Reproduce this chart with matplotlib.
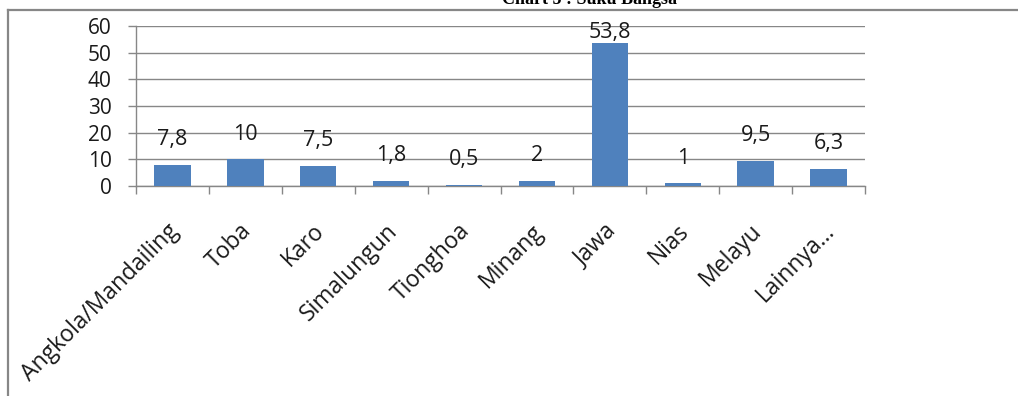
import matplotlib
matplotlib.use("Agg")
import matplotlib.pyplot as plt
from matplotlib.lines import Line2D

categories = ["Angkola/Mandailing", "Toba", "Karo", "Simalungun", "Tionghoa",
              "Minang", "Jawa", "Nias", "Melayu", "Lainnya..."]
values = [7.8, 10, 7.5, 1.8, 0.5, 2, 53.8, 1, 9.5, 6.3]
value_labels = ["7,8", "10", "7,5", "1,8", "0,5", "2", "53,8", "1", "9,5", "6,3"]
y_ticks = [0, 10, 20, 30, 40, 50, 60]

W, H = 1018, 396
fig = plt.figure(figsize=(W / 100, H / 100), dpi=100)
fig.patch.set_facecolor("white")

font = "Open Sans"
txt_color = "#1a1a1a"
grid_color = "#878787"
bar_color = "#4F81BD"

# plot area in pixel units
left, right, top, bottom = 136, 865, 26, 186
ax = fig.add_axes([left / W, 1 - bottom / H, (right - left) / W, (bottom - top) / H])

x = list(range(len(categories)))
ax.bar(x, values, width=0.5, color=bar_color, zorder=3)
ax.set_xlim(-0.5, len(categories) - 0.5)
ax.set_ylim(0, 60)
ax.set_yticks(y_ticks)
ax.set_yticklabels([str(t) for t in y_ticks], fontfamily=font, fontsize=15, color=txt_color)
ax.tick_params(axis="y", length=6, width=1, color=grid_color, pad=11.5)
ax.grid(axis="y", color=grid_color, linewidth=1, zorder=0)

# category boundary ticks along the x axis
ax.set_xticks([i - 0.5 for i in range(len(categories) + 1)])
ax.set_xticklabels([])
ax.tick_params(axis="x", length=6, width=1, color=grid_color, direction="out")

for s in ["top", "right"]:
    ax.spines[s].set_visible(False)
for s in ["left", "bottom"]:
    ax.spines[s].set_color(grid_color)
    ax.spines[s].set_linewidth(1)

# rotated category labels
for i, name in enumerate(categories):
    ax.annotate(name, xy=(i, 0), xycoords=("data", "axes fraction"),
                xytext=(2, -30), textcoords="offset points",
                rotation=45, rotation_mode="anchor", ha="right", va="center",
                fontfamily=font, fontsize=16.5, color=txt_color)

# value labels above bars, kept inside the plot area
for i, (v, lab) in enumerate(zip(values, value_labels)):
    y = min(v + 9.5, 57.4)
    ax.text(i, y, lab, ha="center", va="center", fontfamily=font,
            fontsize=15.5, color=txt_color, zorder=4)

# outer frame
fig.add_artist(Line2D([8 / W, 8 / W], [0, 1 - 10 / H], color="#878787",
                      linewidth=1.6, transform=fig.transFigure))
fig.add_artist(Line2D([8 / W, 1], [1 - 10 / H, 1 - 10 / H], color="#878787",
                      linewidth=1.6, transform=fig.transFigure))

# title, partly above the top edge
fig.text(589 / W, 1 - 4 / H, "Chart 5 : Suku Bangsa", ha="center", va="baseline",
         fontfamily="Liberation Serif", fontweight="bold", fontsize=13, color="black")

fig.savefig("out.png", dpi=100, facecolor="white")
